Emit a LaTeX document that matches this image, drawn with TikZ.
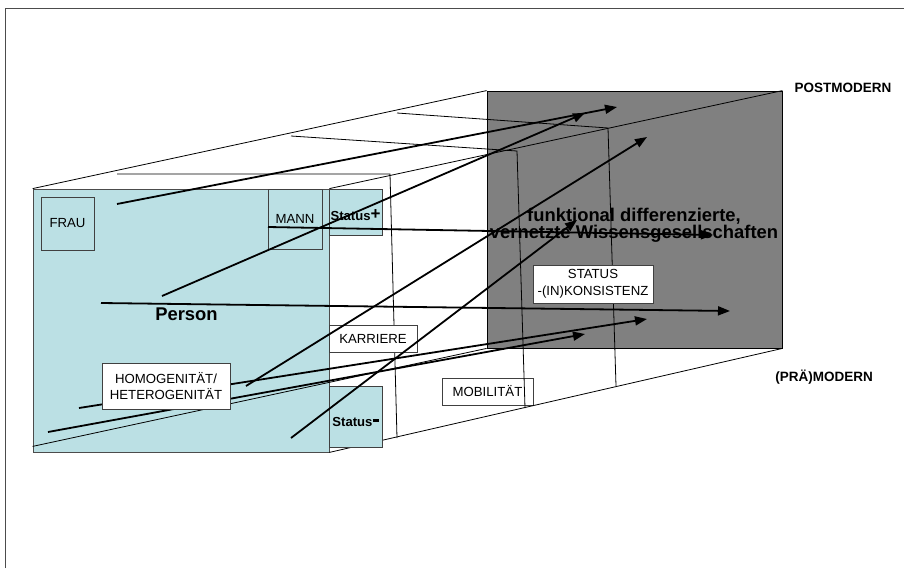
\documentclass[tikz,border=0pt]{standalone}
\usepackage{fontspec}
\setmainfont{Liberation Sans}
\usetikzlibrary{arrows.meta}
\definecolor{frontblue}{RGB}{187,224,228}
\definecolor{backgray}{RGB}{128,128,128}
\tikzset{
    %Define style for the two faces
    face/.style={
           rectangle,
           inner sep=0pt},
 %
    %Define style for label boxes
    box/.style={
           rectangle,
           draw=black!75,
           inner sep=0pt,
           align=center,
           font=\fontsize{13.2}{16.5}\selectfont},
 %
    %Define style for the tunnel lines
    tunnel/.style={
           line width=0.8pt,
           draw=black},
 %
    % Define arrow style
    arrow/.style={
           -{Triangle[length=12pt,width=9pt]},
           line width=1.8pt}
}

\begin{document}
\begin{tikzpicture}[x=1pt,y=-1pt]
  \useasboundingbox (0,0) rectangle (904,568);
  % frame
  \draw[black!70, line width=0.8pt] (5,568) -- (5,8) -- (904,8);
  % faces
  \node[face, fill=backgray, draw=black, line width=0.8pt, minimum width=295pt, minimum height=257pt] (post) at (634.5,219.5) {};
  \node[face, fill=frontblue, draw=black!70, line width=0.8pt, minimum width=296pt, minimum height=263pt] (pre) at (181,320.5) {};
  \node[box, fill=white, minimum width=91pt, minimum height=27pt] (mobil) at (487.5,391.5) {MOBILIT\"AT};
  % tunnel
  \draw[tunnel] (pre.north west) -- (post.north west);
  \draw[tunnel] (pre.north east) -- (post.north east);
  \draw[tunnel] (pre.south east) -- (post.south east);
  \draw[tunnel] ([yshift=6pt]pre.south west) -- (post.south west);
  \draw[tunnel] (117,174) -- (390,174) -- (397,438);
  \draw[tunnel] (291,136) -- (517,151) -- (525,408);
  \draw[tunnel] (397,113) -- (608,128) -- (616,386);
  % boxes
  \node[box, fill=frontblue, minimum width=53pt, minimum height=53pt] (frau) at (67.5,223.5) {FRAU};
  \node[box, fill=frontblue, minimum width=54pt, minimum height=60pt] (mann) at (295,219) {MANN};
  \node[box, fill=frontblue, minimum width=53pt, minimum height=46pt] (statp) at (355.5,212) {};
  \node[font=\bfseries\fontsize{13.1}{15}\selectfont, inner sep=0pt] (statptxt) at (355.5,215) {Status\raisebox{0.5pt}{\fontsize{17}{17}\selectfont+}};
  \node[box, fill=frontblue, minimum width=53pt, minimum height=61pt] (statm) at (355.5,416.5) {};
  \node[font=\bfseries\fontsize{13.1}{15}\selectfont, inner sep=0pt] (statmtxt) at (355.5,422) {Status\raisebox{5pt}{\rule{6pt}{2.4pt}}};
  \node[box, fill=white, minimum width=88pt, minimum height=27pt] (karriere) at (373,338.5) {KARRIERE};
  \node[box, fill=white, minimum width=120pt, minimum height=38pt] (konsist) at (593,284) {STATUS\\-(IN)KONSISTENZ};
  % texts
  \node[font=\bfseries\fontsize{18.4}{17}\selectfont, align=center] (wissen) at (634,225) {funktional differenzierte,\\vernetzte Wissensgesellschaften};
  \node[font=\bfseries\fontsize{18.4}{17}\selectfont] (person) at (186.5,314) {Person};
  \node[font=\bfseries\fontsize{13.5}{15}\selectfont] (postmod) at (843,88) {POSTMODERN};
  \node[font=\bfseries\fontsize{13.5}{15}\selectfont] (praemod) at (824,377) {(PR\"A)MODERN};
  % arrow ends
  \coordinate (frauS) at (117,204);   \coordinate (frauE) at (617,107);
  \coordinate (mannS) at (268,227);   \coordinate (mannE) at (713,235);
  \coordinate (persS) at (162,296);   \coordinate (persE) at (585,113);
  \coordinate (persHS) at (101,303);  \coordinate (persHE) at (730,311);
  \coordinate (homS) at (246,386);    \coordinate (homE) at (647,137);
  \coordinate (statS) at (291,438);   \coordinate (statE) at (577,220);
  \coordinate (hetS) at (79,408);     \coordinate (hetE) at (647,319);
  \coordinate (lowS) at (48,432);     \coordinate (lowE) at (585,334);
  \draw[arrow] (frauS) -- (frauE);
  \draw[arrow] (mannS) -- (mannE);
  \draw[arrow] (persS) -- (persE);
  \draw[arrow] (persHS) -- (persHE);
  \draw[arrow] (homS) -- (homE);
  \draw[arrow] (statS) -- (statE);
  \draw[arrow] (hetS) -- (hetE);
  \draw[arrow] (lowS) -- (lowE);
  \node[box, fill=white, minimum width=128pt, minimum height=46pt] (homog) at (166,386) {HOMOGENIT\"AT/\\HETEROGENIT\"AT};
\end{tikzpicture}
\end{document}
